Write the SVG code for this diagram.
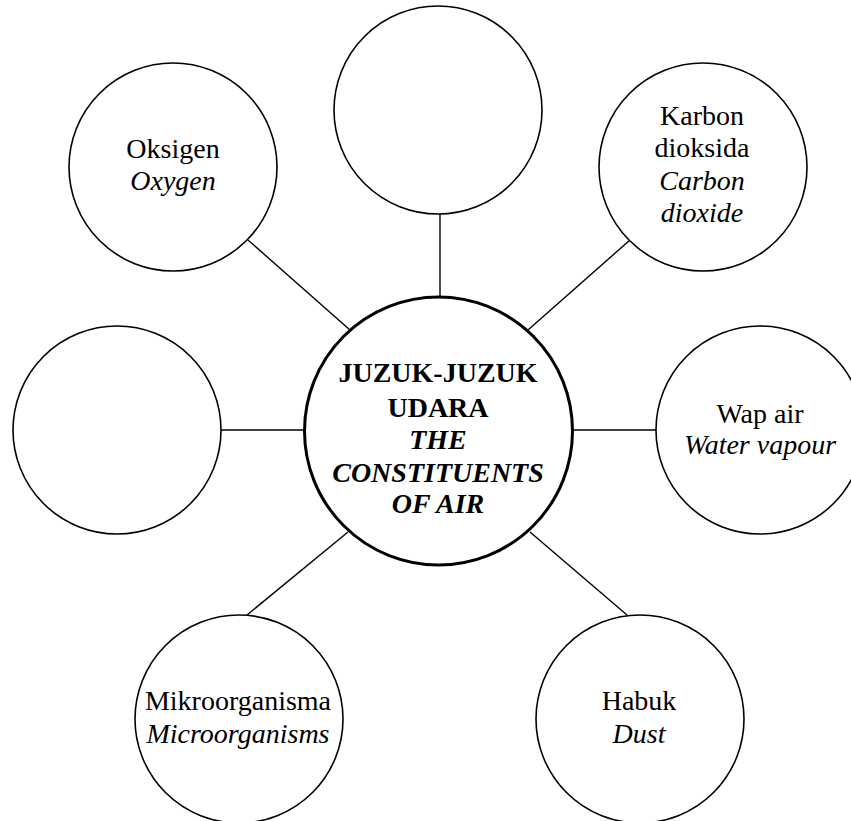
<svg xmlns="http://www.w3.org/2000/svg" width="851" height="821" viewBox="0 0 851 821">
<style>
.c{fill:#fff;stroke:#000;stroke-width:1.6}
.m{fill:#fff;stroke:#000;stroke-width:3}
.l{stroke:#000;stroke-width:1.4;fill:none}
text{font-family:"Liberation Serif","Times New Roman",serif;font-size:28px;text-anchor:middle;fill:#000}
.i{font-style:italic}
.b{font-weight:bold}
</style>
<rect width="851" height="821" fill="#fff"/>
<g id="connectors">
<line class="l" x1="440" y1="214" x2="440" y2="297"/>
<line class="l" x1="248" y1="240" x2="350" y2="330"/>
<line class="l" x1="630" y1="240" x2="528" y2="330"/>
<line class="l" x1="221" y1="430" x2="305" y2="430"/>
<line class="l" x1="572" y1="430" x2="656" y2="430"/>
<line class="l" x1="348" y1="532" x2="247" y2="615"/>
<line class="l" x1="530" y1="532" x2="627" y2="615"/>
</g>
<g id="top-empty"><circle class="c" cx="438" cy="110" r="104"/></g>
<g id="oksigen"><circle class="c" cx="173" cy="167" r="104"/>
<text x="173" y="158">Oksigen</text><text class="i" x="173" y="190">Oxygen</text></g>
<g id="karbon"><circle class="c" cx="703" cy="167" r="104"/>
<text x="702" y="125">Karbon</text><text x="702" y="157">dioksida</text><text class="i" x="702" y="190">Carbon</text><text class="i" x="702" y="222">dioxide</text></g>
<g id="left-empty"><circle class="c" cx="117" cy="430" r="104"/></g>
<g id="wap-air"><circle class="c" cx="760" cy="430" r="104"/>
<text x="760" y="423">Wap air</text><text class="i" x="760" y="454">Water vapour</text></g>
<g id="mikro"><circle class="c" cx="239" cy="719" r="104"/>
<text x="238" y="710">Mikroorganisma</text><text class="i" x="238" y="743">Microorganisms</text></g>
<g id="habuk"><circle class="c" cx="640" cy="719" r="104"/>
<text x="639" y="710">Habuk</text><text class="i" x="639" y="743">Dust</text></g>
<g id="centre"><circle class="m" cx="438.5" cy="431" r="134"/>
<text class="b" x="438" y="382">JUZUK-JUZUK</text>
<text class="b" x="438" y="417">UDARA</text>
<text class="b i" x="438" y="449">THE</text>
<text class="b i" x="438" y="482">CONSTITUENTS</text>
<text class="b i" x="438" y="513">OF AIR</text></g>
</svg>
